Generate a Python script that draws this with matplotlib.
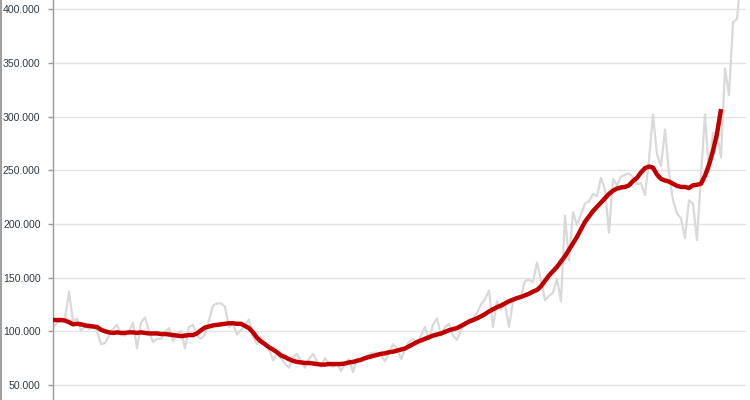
import matplotlib
matplotlib.use("Agg")
import matplotlib.pyplot as plt
from matplotlib.lines import Line2D
from matplotlib.ticker import FuncFormatter
import numpy as np

# Monthly values (thousands) - gray raw series
raw_values = [
    103, 108, 110, 112, 137, 109, 112, 101, 104, 102,
    106, 100, 88, 89, 96, 102, 106, 97, 96, 100,
    108, 84, 108, 113, 100, 90, 93, 93, 99, 103,
    91, 97, 100, 84, 104, 106, 96, 93, 97, 110,
    124, 126, 126, 123, 104, 107, 97, 101, 106, 111,
    95, 88, 95, 87, 84, 73, 79, 75, 70, 66,
    76, 79, 72, 66, 74, 79, 72, 67, 75, 70,
    67, 70, 63, 70, 74, 62, 75, 72, 76, 79,
    80, 80, 78, 72, 80, 88, 84, 74, 83, 90,
    93, 88, 96, 104, 92, 106, 112, 96, 104, 107,
    96, 92, 101, 108, 111, 112, 117, 125, 130, 138,
    104, 128, 120, 125, 104, 128, 130, 132, 147, 148,
    146, 164, 148, 129, 133, 136, 149, 128, 208, 166,
    211, 199, 209, 219, 221, 228, 226, 243, 232, 192,
    242, 236, 244, 246, 247, 244, 237, 238, 227, 260,
    302, 265, 254, 288, 248, 222, 210, 205, 187, 222,
    219, 185, 245, 302, 248, 285, 285, 262, 345, 320,
    388, 391, 430,
]

# Trend series (thousands) - red line
trend_values = [
    110.5, 110.5, 110.5, 110, 108.5, 106.5, 107, 106.5, 105.5, 105,
    104.5, 104, 101.5, 100, 99, 98.5, 99, 98.5, 98.5, 99,
    99, 98.5, 99, 98.5, 98, 98, 98, 97.5, 97.5, 97,
    96.5, 96, 95.5, 96, 96.5, 96.5, 98, 101, 103.5, 104.5,
    105.5, 106, 106.5, 107, 107.5, 107.5, 107, 107, 105, 103,
    99, 94, 90.5, 88, 85, 83, 80.5, 77.5, 76, 74,
    72.5, 71.5, 71, 70.5, 70.5, 70, 69.5, 69, 69, 69.5,
    69.5, 69.5, 69.5, 70, 71, 71.5, 72.5, 73.5, 75, 76,
    77, 78, 79, 79.5, 80.5, 81, 82, 83, 84, 86,
    88, 90, 91.5, 93, 94.5, 96, 97, 98, 99.5, 101,
    102, 103, 105, 107, 109, 110.5, 112, 114, 116, 118.5,
    120.5, 122.5, 124, 126, 128, 129.5, 131, 132, 133.5, 135,
    137, 138.5, 142, 147, 152, 156, 160, 165, 170, 176,
    182, 188, 195, 202, 207, 212, 216, 220, 224, 228,
    231, 233, 234, 234.5, 236, 240, 243, 248, 252, 253.5,
    252.5, 246, 242, 240.5, 239.5, 237.5, 235.5, 234.5, 234.5, 233.5,
    236, 236.5, 237.5, 245, 255, 268, 284, 307,
]

y_ticks = [50000, 100000, 150000, 200000, 250000, 300000, 350000, 400000]

raw = np.array(raw_values) * 1000
trend = np.array(trend_values) * 1000

fig = plt.figure(figsize=(7.5, 4.0), dpi=100)
ax = fig.add_axes([53 / 750, 0, 693 / 750, 1])

ax.plot(np.arange(len(raw)), raw, color="#d9d9d9", lw=1.6, zorder=2)
ax.plot(np.arange(len(trend)), trend, color="#c00000", lw=3.2, zorder=3,
        solid_capstyle="butt")

ax.set_xlim(0, 173.25)
ax.set_ylim(36000, 408660)
ax.set_yticks(y_ticks)
ax.yaxis.set_major_formatter(FuncFormatter(lambda v, p: f"{int(v):,}".replace(",", ".")))
ax.grid(axis="y", color="#e3e3e3", lw=1.0, zorder=0)
ax.set_xticks([])

for s in ["top", "right", "bottom"]:
    ax.spines[s].set_visible(False)
ax.spines["left"].set_color("#9a9a9a")
ax.spines["left"].set_linewidth(1.0)
ax.tick_params(axis="y", length=3.5, width=1, color="#9a9a9a", pad=5.5,
               labelsize=7.6, labelcolor="#303a44")
for lbl in ax.get_yticklabels():
    lbl.set_fontfamily("Liberation Sans")

fig.add_artist(Line2D([0.8 / 750, 0.8 / 750], [0, 1], color="#a0a0a0", lw=1.5,
                      transform=fig.transFigure))

fig.savefig("out.png", dpi=100)
